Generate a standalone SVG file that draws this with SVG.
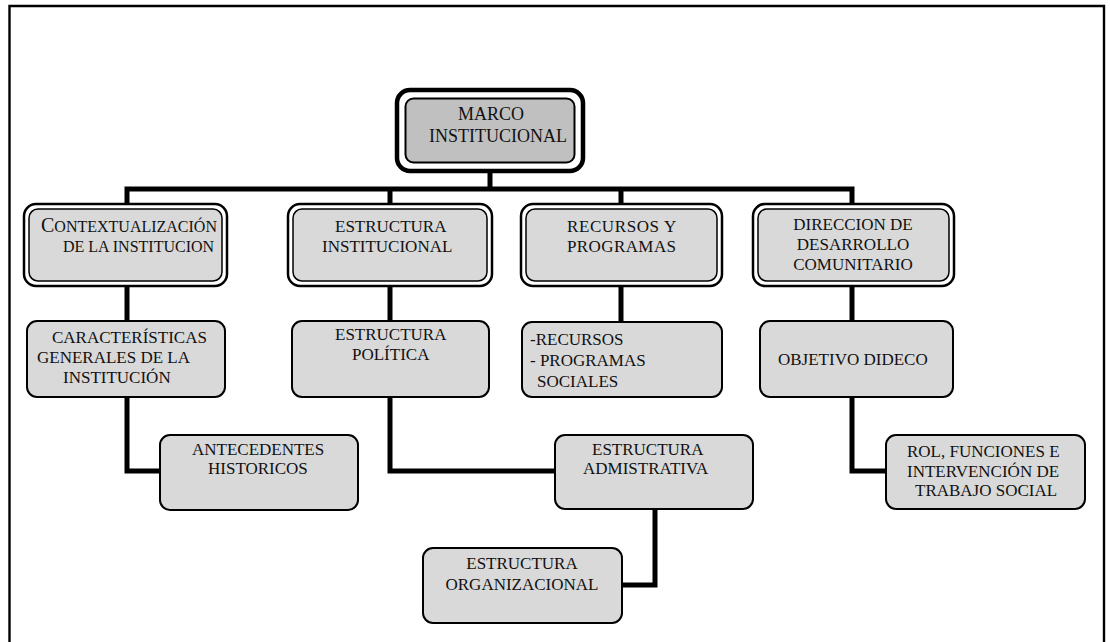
<svg xmlns="http://www.w3.org/2000/svg" width="1110" height="642" viewBox="0 0 1110 642">
  <style>
    text { font-family: "Liberation Serif", "Times New Roman", serif; font-size: 17px; fill: #111; }
    .t16 { font-size: 16px; }
    .t18 { font-size: 18px; }
    .mid { text-anchor: middle; }
    .frame { fill: none; stroke: #000; stroke-width: 2.4; }
    .link { fill: none; stroke: #000; stroke-width: 5; stroke-linejoin: miter; }
    .root-outer { fill: #fff; stroke: #000; stroke-width: 4.5; }
    .root-inner { fill: #c0c0c0; stroke: #000; stroke-width: 2; }
    .dbl-outer { fill: #fff; stroke: #000; stroke-width: 2.5; }
    .dbl-inner { fill: #d9d9d9; stroke: #000; stroke-width: 1.5; }
    .box { fill: #d9d9d9; stroke: #000; stroke-width: 2; }
  </style>

  <!-- page frame, open at the bottom -->
  <path class="frame" d="M9.5,642 V6 H1104 V642"/>

  <!-- connectors -->
  <g id="connectors">
    <path class="link" d="M490,172 V189"/>
    <path class="link" d="M127,204 V189 H852 V204"/>
    <path class="link" d="M390,189 V204"/>
    <path class="link" d="M621,189 V204"/>
    <path class="link" d="M127,286 V322"/>
    <path class="link" d="M390,286 V322"/>
    <path class="link" d="M621,286 V322"/>
    <path class="link" d="M852,286 V322"/>
    <path class="link" d="M127,396 V471 H161"/>
    <path class="link" d="M390,396 V471 H556"/>
    <path class="link" d="M852,396 V471 H887"/>
    <path class="link" d="M655,508 V585 H621"/>
  </g>

  <!-- root -->
  <g id="marco-institucional">
    <rect class="root-outer" x="397" y="90" width="186" height="81" rx="13"/>
    <rect class="root-inner" x="405.5" y="98.5" width="169" height="64" rx="8"/>
    <text class="t18 mid" x="491" y="120">MARCO</text>
    <text class="t18 mid" x="498" y="142">INSTITUCIONAL</text>
  </g>

  <!-- first level -->
  <g id="contextualizacion">
    <rect class="dbl-outer" x="24" y="204" width="203" height="82" rx="12"/>
    <rect class="dbl-inner" x="29" y="209" width="193" height="72" rx="9"/>
    <text class="t16" x="41" y="232"><tspan style="font-size:20px">C</tspan>ONTEXTUALIZACIÓN</text>
    <text class="t16" x="63" y="252">DE LA INSTITUCION</text>
  </g>

  <g id="estructura-institucional">
    <rect class="dbl-outer" x="288" y="204" width="204" height="82" rx="12"/>
    <rect class="dbl-inner" x="293" y="209" width="194" height="72" rx="9"/>
    <text x="335" y="232">ESTRUCTURA</text>
    <text x="322" y="252">INSTITUCIONAL</text>
  </g>

  <g id="recursos-programas">
    <rect class="dbl-outer" x="521" y="204" width="201" height="82" rx="12"/>
    <rect class="dbl-inner" x="526" y="209" width="191" height="72" rx="9"/>
    <text x="567" y="232" letter-spacing="0.6">RECURSOS Y</text>
    <text x="567" y="252" letter-spacing="0.4">PROGRAMAS</text>
  </g>

  <g id="direccion-desarrollo">
    <rect class="dbl-outer" x="753" y="204" width="201" height="82" rx="12"/>
    <rect class="dbl-inner" x="758" y="209" width="191" height="72" rx="9"/>
    <text class="mid" x="853" y="230">DIRECCION DE</text>
    <text class="mid" x="853" y="250">DESARROLLO</text>
    <text class="mid" x="853" y="270">COMUNITARIO</text>
  </g>

  <!-- second level -->
  <g id="caracteristicas">
    <rect class="box" x="27" y="321" width="198" height="76" rx="10"/>
    <text x="52" y="343">CARACTERÍSTICAS</text>
    <text x="37" y="363">GENERALES DE LA</text>
    <text x="63" y="383">INSTITUCIÓN</text>
  </g>

  <g id="estructura-politica">
    <rect class="box" x="292" y="321" width="197" height="76" rx="10"/>
    <text x="335" y="340">ESTRUCTURA</text>
    <text x="352" y="360">POLÍTICA</text>
  </g>

  <g id="recursos-lista">
    <rect class="box" x="522" y="322" width="200" height="75" rx="10"/>
    <text x="530" y="345">-RECURSOS</text>
    <text x="530" y="366">- PROGRAMAS</text>
    <text x="537" y="387">SOCIALES</text>
  </g>

  <g id="objetivo-dideco">
    <rect class="box" x="760" y="321" width="193" height="76" rx="10"/>
    <text x="778" y="365">OBJETIVO DIDECO</text>
  </g>

  <!-- third level -->
  <g id="antecedentes">
    <rect class="box" x="160" y="435" width="198" height="75" rx="10"/>
    <text x="192" y="455">ANTECEDENTES</text>
    <text x="208" y="474">HISTORICOS</text>
  </g>

  <g id="estructura-administrativa">
    <rect class="box" x="555" y="435" width="198" height="74" rx="10"/>
    <text x="592" y="455">ESTRUCTURA</text>
    <text x="583" y="474">ADMISTRATIVA</text>
  </g>

  <g id="rol-funciones">
    <rect class="box" x="886" y="435" width="199" height="74" rx="10"/>
    <text x="907" y="457">ROL, FUNCIONES E</text>
    <text x="907" y="477">INTERVENCIÓN DE</text>
    <text x="915" y="496">TRABAJO SOCIAL</text>
  </g>

  <g id="estructura-organizacional">
    <rect class="box" x="423" y="548" width="199" height="75" rx="10"/>
    <text class="mid" x="522" y="569">ESTRUCTURA</text>
    <text class="mid" x="522" y="590">ORGANIZACIONAL</text>
  </g>
</svg>
